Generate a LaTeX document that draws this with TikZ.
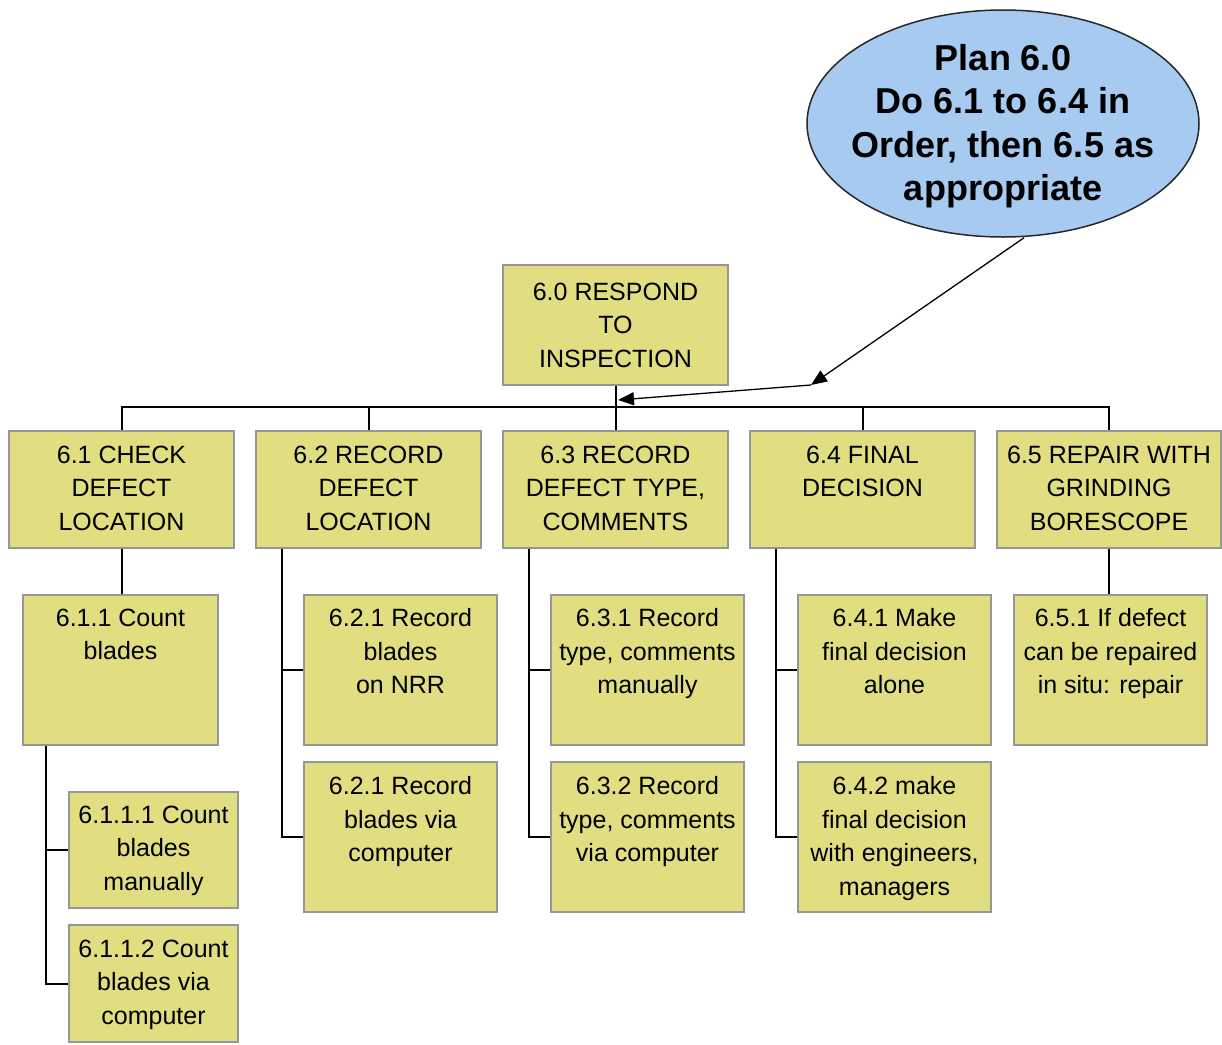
\documentclass[tikz,border=0pt]{standalone}
\usepackage{fontspec}
\setmainfont{Liberation Sans}
\usetikzlibrary{fit,arrows.meta,shapes.geometric}
\definecolor{boxfill}{RGB}{224,222,128}
\definecolor{boxline}{RGB}{150,150,150}
\definecolor{ellfill}{RGB}{166,202,240}
\definecolor{ellline}{RGB}{40,40,40}
\tikzset{
  tbox/.style={draw=boxline, fill=boxfill, line width=1.3pt, inner sep=0pt},
  ttxt/.style={anchor=north, inner sep=0pt, align=center, font=\fontsize{25}{33.5}\selectfont},
  conn/.style={draw=black, line width=2pt},
  plan/.style={draw=ellline, fill=ellfill, line width=1.5pt, ellipse, inner sep=0pt},
  plantxt/.style={align=center, inner sep=0pt, font=\fontsize{36}{43.5}\selectfont\bfseries},
  arr/.style={draw=black, line width=1.3pt, -{Triangle[length=16pt,width=13pt]}}
}
\newcommand\mybox[7]{%
  \node[tbox, fit={(#2,#3) (#4,#5)}] (#1) {};
  \node[ttxt] (#1t) at ([yshift=-#6pt]#1.north) {#7};
}
\begin{document}
\begin{tikzpicture}[x=1pt,y=-1pt]
\useasboundingbox (0,0) rectangle (1222,1044);
% plan ellipse
\node[plan, minimum width=392pt, minimum height=227pt] (ell) at (1003,123.5) {};
\node[plantxt] (ellt) at ([yshift=-2.5pt]ell.center) {Plan 6.0\\Do 6.1 to 6.4 in\\Order, then 6.5 as\\appropriate};
% boxes
\mybox{b60}{503}{265}{728}{385}{18}{6.0 RESPOND\\TO\\INSPECTION}
\mybox{b61}{9}{431}{234}{548}{15}{6.1 CHECK\\DEFECT\\LOCATION}
\mybox{b62}{256}{431}{481}{548}{15}{6.2 RECORD\\DEFECT\\LOCATION}
\mybox{b63}{503}{431}{728}{548}{15}{6.3 RECORD\\DEFECT TYPE,\\COMMENTS}
\mybox{b64}{750}{431}{975}{548}{15}{6.4 FINAL\\DECISION}
\mybox{b65}{997}{431}{1221}{548}{15}{6.5 REPAIR WITH\\GRINDING\\BORESCOPE}
\mybox{b611}{23}{595}{218}{745}{14}{6.1.1 Count\\blades}
\mybox{b6111}{69}{792}{238}{908}{14}{6.1.1.1 Count\\blades\\manually}
\mybox{b6112}{69}{925}{238}{1042}{15}{6.1.1.2 Count\\blades via\\computer}
\mybox{b621}{304}{595}{497}{745}{14}{6.2.1 Record\\blades\\on NRR}
\mybox{b622}{304}{762}{497}{912}{15}{6.2.1 Record\\blades via\\computer}
\mybox{b631}{551}{595}{744}{745}{14}{6.3.1 Record\\type, comments\\manually}
\mybox{b632}{551}{762}{744}{912}{15}{6.3.2 Record\\type, comments\\via computer}
\mybox{b641}{798}{595}{991}{745}{14}{6.4.1 Make\\final decision\\alone}
\mybox{b642}{798}{762}{991}{912}{15}{6.4.2 make\\final decision\\with engineers,\\managers}
\mybox{b651}{1014}{595}{1207}{745}{14}{6.5.1 If defect\\can be repaired\\in situ: repair}
% top-level bus
\coordinate (busy) at (0,407);
\draw[conn] (b60.south) -- (b60.south |- busy);
\draw[conn] (b61.north) -- (b61.north |- busy) -| (b65.north);
\draw[conn] (b62.north) -- (b62.north |- busy);
\draw[conn] (b63.north) -- (b63.north |- busy);
\draw[conn] (b64.north) -- (b64.north |- busy);
% 6.1 branch
\draw[conn] (b61.south) -- (b61.south |- b611.north);
\draw[conn] ([xshift=24pt]b611.south west) |- (b6111.west);
\draw[conn] ([xshift=24pt]b611.south west) |- (b6112.west);
% 6.2 / 6.3 / 6.4 branches
\draw[conn] ([xshift=26.5pt]b62.south west) |- (b621.west);
\draw[conn] ([xshift=26.5pt]b62.south west) |- (b622.west);
\draw[conn] ([xshift=26.5pt]b63.south west) |- (b631.west);
\draw[conn] ([xshift=26.5pt]b63.south west) |- (b632.west);
\draw[conn] ([xshift=26.5pt]b64.south west) |- (b641.west);
\draw[conn] ([xshift=26.5pt]b64.south west) |- (b642.west);
% 6.5 branch
\draw[conn] (b65.south) -- (b65.south |- b651.north);
% plan arrow
\coordinate (bend) at (811,385);
\coordinate (tip) at (618,400);
\draw[arr] ([xshift=21pt]ell.south) -- (bend);
\draw[arr] (bend) -- (tip);
\end{tikzpicture}
\end{document}
